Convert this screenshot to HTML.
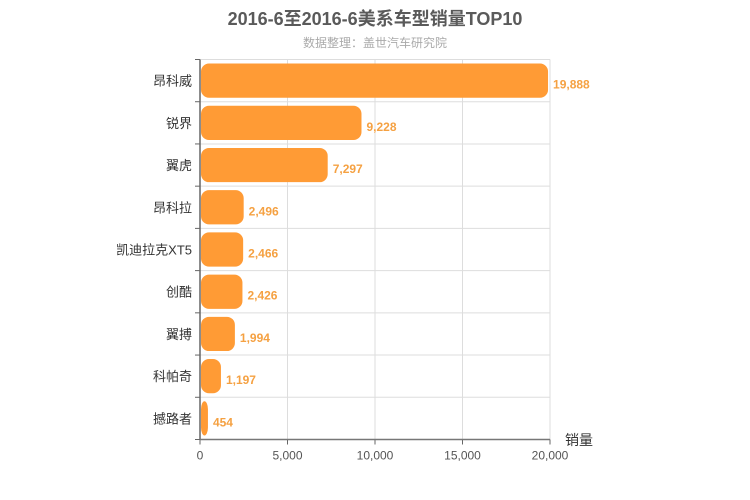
<!DOCTYPE html>
<html><head><meta charset="utf-8"><style>
body{margin:0;background:#fff;}
svg{display:block;font-family:"Liberation Sans","Noto Sans CJK SC",sans-serif;}
</style></head><body>
<svg id="c" width="750" height="500">
<text x="375" y="25" text-anchor="middle" font-size="18" font-weight="bold" fill="#5a5a5a">2016-6至2016-6美系车型销量TOP10</text>
<text x="375" y="47" text-anchor="middle" font-size="12" fill="#aaa">数据整理：盖世汽车研究院</text>
<g id="grid"></g><g id="bars"></g><g id="axes"></g>
</svg>
<script>
const categories=["昂科威","锐界","翼虎","昂科拉","凯迪拉克XT5","创酷","翼搏","科帕奇","撼路者"];
const values=[19888,9228,7297,2496,2466,2426,1994,1197,454];
const xTicks=[0,5000,10000,15000,20000];
const NS="http://www.w3.org/2000/svg";
const L=200,R=550,T=59.5,B=439.5,band=(B-T)/categories.length;
const xs=v=>L+(R-L)*v/20000;
const ys=i=>T+band*i;
function mk(t,a,p,txt){const e=document.createElementNS(NS,t);for(const k in a)e.setAttribute(k,a[k]);if(txt!==undefined)e.textContent=txt;p.appendChild(e);return e;}
const gGrid=document.getElementById('grid'),gBars=document.getElementById('bars'),gAx=document.getElementById('axes');
xTicks.forEach(v=>{if(v>0){const l=mk('line',{x1:xs(v),x2:xs(v),y1:T,y2:B,stroke:'#ddd'},gGrid);

}
const tk=mk('line',{x1:xs(v),x2:xs(v),y1:B,y2:B+5,stroke:'#666'},gAx);


const t=mk('text',{x:xs(v),y:B+20,'text-anchor':'middle','font-size':12,fill:'#555'},gAx,v.toLocaleString('en-US'));

});
for(let i=1;i<categories.length;i++){const l=mk('line',{x1:L,x2:R,y1:ys(i),y2:ys(i),stroke:'#ddd'},gGrid);

}
const topLine=mk('line',{x1:L,x2:R,y1:T,y2:T,stroke:'#ddd'},gGrid);


categories.forEach((c,i)=>{const y0=ys(i)+4,h=band-8;
const r=mk('rect',{x:L+1,y:y0,width:Math.max(xs(values[i])-L-1,0),height:h,rx:8,fill:'#ff9b35'},gBars);


const lb=mk('text',{x:xs(values[i])+5,y:y0+h/2+8,'font-size':12,'font-weight':'bold',fill:'#f5a142'},gBars,values[i].toLocaleString('en-US'));


const cl=mk('text',{x:L-8,y:ys(i)+band/2+5,'text-anchor':'end','font-size':13,fill:'#333'},gAx,c);

});
for(let i=0;i<=categories.length;i++){const tk=mk('line',{x1:L-5,x2:L,y1:ys(i),y2:ys(i),stroke:'#666'},gAx);

}
const ya=mk('line',{x1:L,x2:L,y1:T,y2:B,stroke:'#666','stroke-width':1.5},gAx);


const xa=mk('line',{x1:L,x2:R,y1:B,y2:B,stroke:'#777','stroke-width':1.5},gAx);


const xt=mk('text',{x:565,y:445,'font-size':14,fill:'#333'},gAx,'销量');


</script>
</body></html>
